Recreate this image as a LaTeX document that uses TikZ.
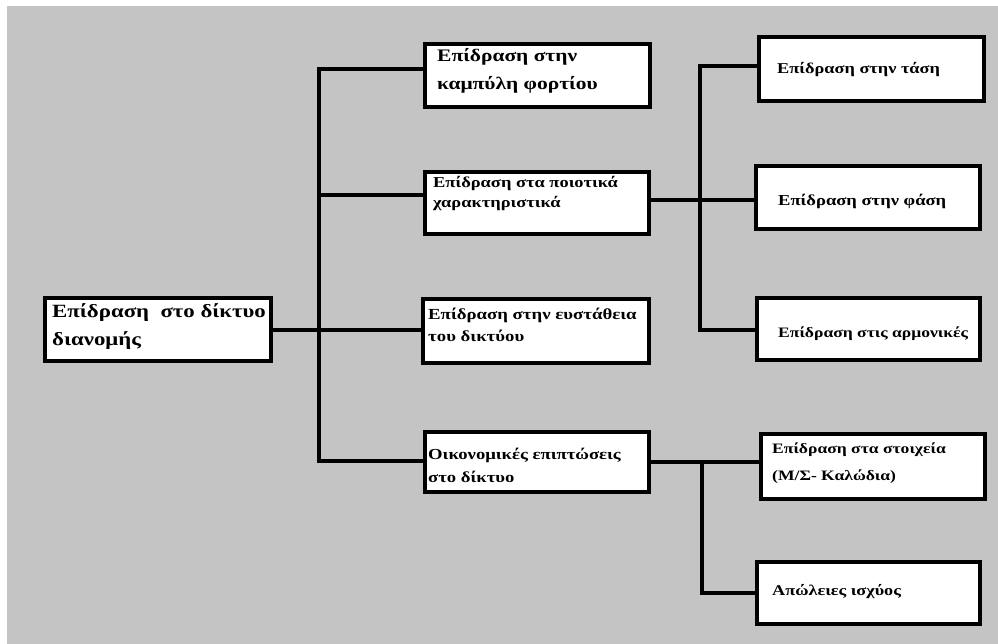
\documentclass[tikz,border=0pt]{standalone}
\usepackage{fontspec}
\setmainfont{Liberation Serif}
\newfontfamily\wideserif[FakeStretch=1.22]{Liberation Serif}
\newcommand{\tfont}[2]{\wideserif\bfseries\fontsize{#1bp}{#2bp}\selectfont}
\begin{document}
\begin{tikzpicture}[x=1bp,y=-1bp,
  box/.style={draw=black,fill=white,line width=4bp,rectangle,inner sep=0pt,anchor=north west},
  conn/.style={draw=black,line width=4bp},
  txt/.style={anchor=base west,inner sep=0pt,align=left}]
\useasboundingbox (0,0) rectangle (998,644);
\fill[white] (0,0) rectangle (998,644);
\fill[fill={rgb,255:red,196;green,196;blue,196}] (7,6) rectangle (998,644);
% boxes
\node[box,minimum width=226bp,minimum height=63bp] (root) at (43,296) {};
\node[box,minimum width=225bp,minimum height=63bp] (A) at (423,42) {};
\node[box,minimum width=224bp,minimum height=62bp] (B) at (423,170) {};
\node[box,minimum width=226bp,minimum height=64bp] (C) at (421,297) {};
\node[box,minimum width=224bp,minimum height=60bp] (D) at (423,430) {};
\node[box,minimum width=225bp,minimum height=64bp] (E) at (757,35) {};
\node[box,minimum width=224bp,minimum height=63bp] (F) at (754,164) {};
\node[box,minimum width=223bp,minimum height=62bp] (G) at (755,296) {};
\node[box,minimum width=224bp,minimum height=65bp] (H) at (759,432) {};
\node[box,minimum width=223bp,minimum height=62bp] (I) at (755,560) {};
% texts (anchor = baseline of last line)
\node[txt,font=\tfont{18.7}{28}] (rootT) at (52,345) {Επίδραση\ \ στο δίκτυο\\διανομής};
\node[txt,font=\tfont{17.6}{28}] (AT) at (437,90) {Επίδραση στην\\καμπύλη φορτίου};
\node[txt,font=\tfont{15.1}{20}] (BT) at (433,208) {Επίδραση στα ποιοτικά\\χαρακτηριστικά};
\node[txt,font=\tfont{15.4}{22}] (CT) at (428,341) {Επίδραση στην ευστάθεια\\του δικτύου};
\node[txt,font=\tfont{15.3}{23}] (DT) at (428,482) {Οικονομικές επιπτώσεις\\στο δίκτυο};
\node[txt,font=\tfont{15.0}{20}] (ET) at (777,74) {Επίδραση στην τάση};
\node[txt,font=\tfont{15.2}{20}] (FT) at (778,206) {Επίδραση στην φάση};
\node[txt,font=\tfont{14.4}{20}] (GT) at (778,337) {Επίδραση στις αρμονικές};
\node[txt,font=\tfont{14.4}{27}] (HT) at (772,480) {Επίδραση στα στοιχεία\\(Μ/Σ- Καλώδια)};
\node[txt,font=\tfont{14.9}{20}] (IT) at (772,595) {Απώλειες ισχύος};
% connector coordinates
\coordinate (t1) at (319,69);
\coordinate (tb) at (319,195);
\coordinate (tr) at (319,330);
\coordinate (t4) at (319,461);
\coordinate (u1) at (700,66);
\coordinate (u2) at (700,200);
\coordinate (u3) at (700,330);
\coordinate (l1) at (702,462);
\coordinate (l2) at (702,593);
% connectors
\draw[conn] (A.west |- t1) -- (t1) -- (t4) -- (D.west |- t4);
\draw[conn] (root.east |- tr) -- (C.west |- tr);
\draw[conn] (tb) -- (B.west |- tb);
\draw[conn] (E.west |- u1) -- (u1) -- (u3) -- (G.west |- u3);
\draw[conn] (B.east |- u2) -- (F.west |- u2);
\draw[conn] (D.east |- l1) -- (H.west |- l1);
\draw[conn] (l1) -- (l2) -- (I.west |- l2);
\end{tikzpicture}
\end{document}
